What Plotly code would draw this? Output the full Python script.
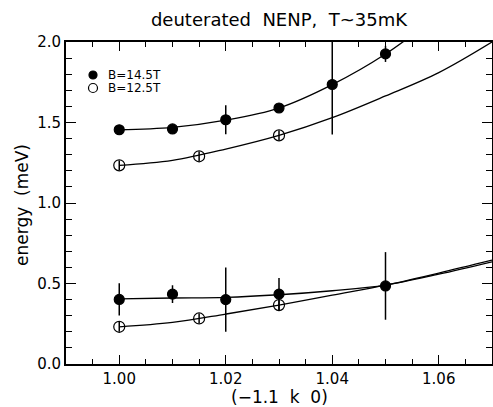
import plotly.graph_objects as go

# ---- data ----
# B = 14.5 T (filled circles)
hi_up_q = [1.00, 1.01, 1.02, 1.03, 1.04, 1.05]
hi_up_E = [1.455, 1.46, 1.517, 1.59, 1.736, 1.926]
hi_up_err = [0.03, 0.02, 0.09, 0.02, 0.31, 0.05]

hi_lo_q = [1.00, 1.01, 1.02, 1.03, 1.05]
hi_lo_E = [0.401, 0.434, 0.40, 0.434, 0.485]
hi_lo_err = [0.10, 0.055, 0.20, 0.10, 0.21]

# B = 12.5 T (open circles)
lo_up_q = [1.00, 1.015, 1.03]
lo_up_E = [1.234, 1.29, 1.42]
lo_up_err = [0.03, 0.03, 0.03]

lo_lo_q = [1.00, 1.015, 1.03]
lo_lo_E = [0.231, 0.283, 0.366]
lo_lo_err = [0.03, 0.03, 0.03]

# fitted dispersion curves
fit_hi_up_q = [1.00, 1.01, 1.02, 1.03, 1.04, 1.05, 1.06]
fit_hi_up_E = [1.455, 1.47, 1.515, 1.59, 1.735, 1.925, 2.17]
fit_lo_up_q = [1.00, 1.01, 1.02, 1.03, 1.04, 1.05, 1.06, 1.07]
fit_lo_up_E = [1.234, 1.265, 1.335, 1.42, 1.53, 1.665, 1.81, 2.0]
fit_hi_lo_q = [1.00, 1.01, 1.02, 1.03, 1.04, 1.05, 1.06, 1.07]
fit_hi_lo_E = [0.405, 0.41, 0.414, 0.43, 0.455, 0.49, 0.558, 0.635]
fit_lo_lo_q = [1.00, 1.01, 1.02, 1.03, 1.04, 1.05, 1.06, 1.07]
fit_lo_lo_E = [0.231, 0.258, 0.31, 0.366, 0.428, 0.49, 0.565, 0.645]

legend_labels = ["B=14.5T", "B=12.5T"]
title_text = "deuterated  NENP,  T~35mK"
x_title = "(\u22121.1  k  0)"
y_title = "energy  (meV)"

FONT = "DejaVu Sans"
fig = go.Figure()

for qx, ey in [(fit_hi_up_q, fit_hi_up_E), (fit_lo_up_q, fit_lo_up_E),
               (fit_hi_lo_q, fit_hi_lo_E), (fit_lo_lo_q, fit_lo_lo_E)]:
    fig.add_trace(go.Scatter(x=qx, y=ey, mode="lines",
                             line=dict(color="black", width=1.3, shape="spline", smoothing=1.0),
                             showlegend=False, hoverinfo="skip"))

def pts(qx, ey, err, filled):
    fig.add_trace(go.Scatter(
        x=qx, y=ey, mode="markers",
        marker=dict(symbol="circle" if filled else "circle-open",
                    size=10 if filled else 11, color="black",
                    line=dict(color="black", width=1.2)),
        error_y=dict(type="data", array=err, visible=True, color="black",
                     thickness=1.5, width=0),
        showlegend=False))

pts(hi_up_q, hi_up_E, hi_up_err, True)
pts(hi_lo_q, hi_lo_E, hi_lo_err, True)
pts(lo_up_q, lo_up_E, lo_up_err, False)
pts(lo_lo_q, lo_lo_E, lo_lo_err, False)

# custom legend (symbols as pixel-sized shapes, labels as annotations)
L, T, W, H = 66, 42, 426, 322
def px(x):
    return (x - L) / W
def py(y):
    return (T + H - y) / H

leg_rows = [75, 88]
shapes = []
annots = []
for i, (yy, lab) in enumerate(zip(leg_rows, legend_labels)):
    r = 4 if i == 0 else 4.5
    shapes.append(dict(type="circle", xref="paper", yref="paper",
                       xsizemode="pixel", ysizemode="pixel",
                       xanchor=px(93), yanchor=py(yy),
                       x0=-r, x1=r, y0=-r, y1=r,
                       line=dict(color="black", width=1.2),
                       fillcolor="black" if i == 0 else "rgba(0,0,0,0)"))
    annots.append(dict(text=lab, xref="paper", yref="paper", x=px(106), y=py(yy),
                       xanchor="left", yanchor="middle", showarrow=False,
                       font=dict(family=FONT, size=12, color="black")))

# axis titles placed as annotations for exact positioning
annots.append(dict(text=x_title, xref="paper", yref="paper", x=0.5, y=py(397),
                   xanchor="center", yanchor="middle", showarrow=False,
                   font=dict(family=FONT, size=17, color="black")))
annots.append(dict(text=y_title, xref="paper", yref="paper", x=px(22), y=py(205),
                   xanchor="center", yanchor="middle", showarrow=False, textangle=-90,
                   font=dict(family=FONT, size=17, color="black")))

axis_common = dict(showline=True, linecolor="black", linewidth=2, mirror="allticks",
                   ticks="inside", tickcolor="black", tickwidth=1.3,
                   showgrid=False, zeroline=False, automargin=False,
                   tickfont=dict(family=FONT, size=15, color="black"))

fig.update_layout(
    width=493, height=407,
    margin=dict(l=L, r=493 - L - W, t=T, b=407 - T - H, autoexpand=False),
    paper_bgcolor="white", plot_bgcolor="white",
    showlegend=False,
    title=dict(text=title_text, x=0.5, xref="paper", y=1 - 20 / 407, yref="container",
               xanchor="center", yanchor="middle",
               font=dict(family=FONT, size=18, color="black")),
    xaxis=dict(range=[0.99, 1.07], tick0=1.0, dtick=0.02, tickformat=".2f", ticklen=9,
               minor=dict(dtick=0.005, ticks="inside", ticklen=5, tickcolor="black", tickwidth=1.3),
               **axis_common),
    yaxis=dict(range=[0, 2.0], tick0=0, dtick=0.5, tickformat=".1f", ticklen=10,
               minor=dict(dtick=0.1, ticks="inside", ticklen=6, tickcolor="black", tickwidth=1.3),
               **axis_common),
    shapes=shapes, annotations=annots,
)

fig.write_html("out.html",
               config={"displayModeBar": False},
               post_script="document.body.style.margin='0';document.body.style.padding='0';"
                           "document.body.style.overflow='hidden';")
